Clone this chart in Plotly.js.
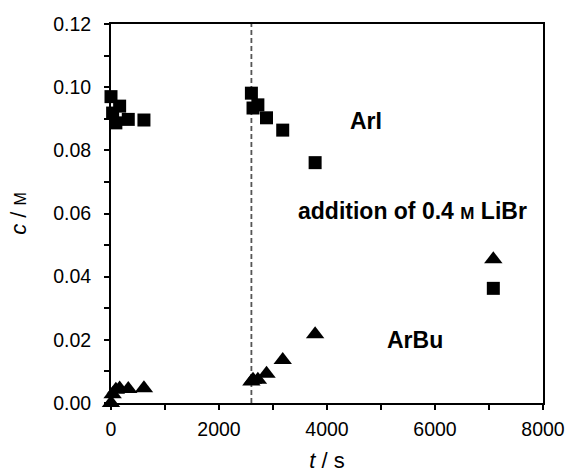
<!DOCTYPE html>
<html>
<head>
<meta charset="utf-8">
<script src="https://cdn.plot.ly/plotly-3.0.1.min.js"></script>
<style>html,body{margin:0;padding:0;background:#fff;}#chart{width:568px;height:473px;}</style>
</head>
<body>
<div id="chart"></div>
<script>
// Time (s) and concentrations (M)
const timeArI = [0, 30, 90, 160, 320, 610, 2600, 2630, 2720, 2880, 3180, 3780, 7080];
const concArI = [0.097, 0.0918, 0.0887, 0.094, 0.0898, 0.0896, 0.0981, 0.0934, 0.0944, 0.0903, 0.0864, 0.0761, 0.0363];
const timeArBu = [0, 30, 90, 160, 320, 610, 2600, 2630, 2720, 2880, 3180, 3780, 7080];
const concArBu = [0.0, 0.0028, 0.0042, 0.0046, 0.0044, 0.0047, 0.0068, 0.0074, 0.0074, 0.0093, 0.0136, 0.0218, 0.0455];
const additionTime = 2600;
const xTitle = '<i>t</i> / s';
const yTitle = '<i>c</i> / <span style="font-size:16px">M</span>';
const labels = [
  {text: '<b>ArI</b>', t: 4720, c: 0.0893},
  {text: '<b>addition of 0.4 <span style="font-size:17px">M</span> LiBr</b>', t: 5575, c: 0.0608},
  {text: '<b>ArBu</b>', t: 5630, c: 0.0200}
];

const font = 'Liberation Sans, Arial, sans-serif';
const traces = [
  {x: timeArI, y: concArI, type: 'scatter', mode: 'markers', name: 'ArI',
   marker: {symbol: 'square', size: 13, color: '#000'}, cliponaxis: false},
  {x: timeArBu, y: concArBu, type: 'scatter', mode: 'markers', name: 'ArBu',
   marker: {symbol: 'triangle-up', size: 16, color: '#000'}, cliponaxis: false}
];

const layout = {
  width: 568, height: 473,
  margin: {l: 111, r: 25, t: 24, b: 70},
  paper_bgcolor: '#fff', plot_bgcolor: '#fff',
  showlegend: false,
  font: {family: font, size: 19.5, color: '#000'},
  xaxis: {
    range: [0, 8000], dtick: 2000, tick0: 0,
    showgrid: false, zeroline: false,
    showline: true, linecolor: '#000', linewidth: 2, mirror: true,
    ticks: 'outside', ticklen: 5, tickwidth: 2, tickcolor: '#000',
    minor: {dtick: 1000, ticks: 'outside', ticklen: 5, tickwidth: 2, tickcolor: '#000'},
    tickfont: {family: font, size: 19.5, color: '#000'},
    ticklabelstandoff: 3,
    title: {text: xTitle, font: {family: font, size: 22, color: '#000'}, standoff: 16}
  },
  yaxis: {
    range: [0, 0.12], dtick: 0.02, tick0: 0, tickformat: '.2f',
    showgrid: false, zeroline: false,
    showline: true, linecolor: '#000', linewidth: 2, mirror: true,
    ticks: 'outside', ticklen: 5, tickwidth: 2, tickcolor: '#000',
    minor: {dtick: 0.01, ticks: 'outside', ticklen: 5, tickwidth: 2, tickcolor: '#000'},
    tickfont: {family: font, size: 19.5, color: '#000'},
    ticklabelstandoff: 9,
    title: {text: yTitle, font: {family: font, size: 22, color: '#000'}, standoff: 20}
  },
  shapes: [{
    type: 'line', xref: 'x', yref: 'paper', x0: additionTime, x1: additionTime, y0: 0, y1: 1,
    line: {color: '#555', width: 1.8, dash: '5px,3px'}, layer: 'below'
  }],
  annotations: labels.map(l => ({
    x: l.t, y: l.c, xref: 'x', yref: 'y', text: l.text, showarrow: false,
    font: {family: font, size: 23, color: '#000'}, xanchor: 'center', yanchor: 'middle'
  }))
};

Plotly.newPlot('chart', traces, layout, {displayModeBar: false, staticPlot: true});
</script>
</body>
</html>
